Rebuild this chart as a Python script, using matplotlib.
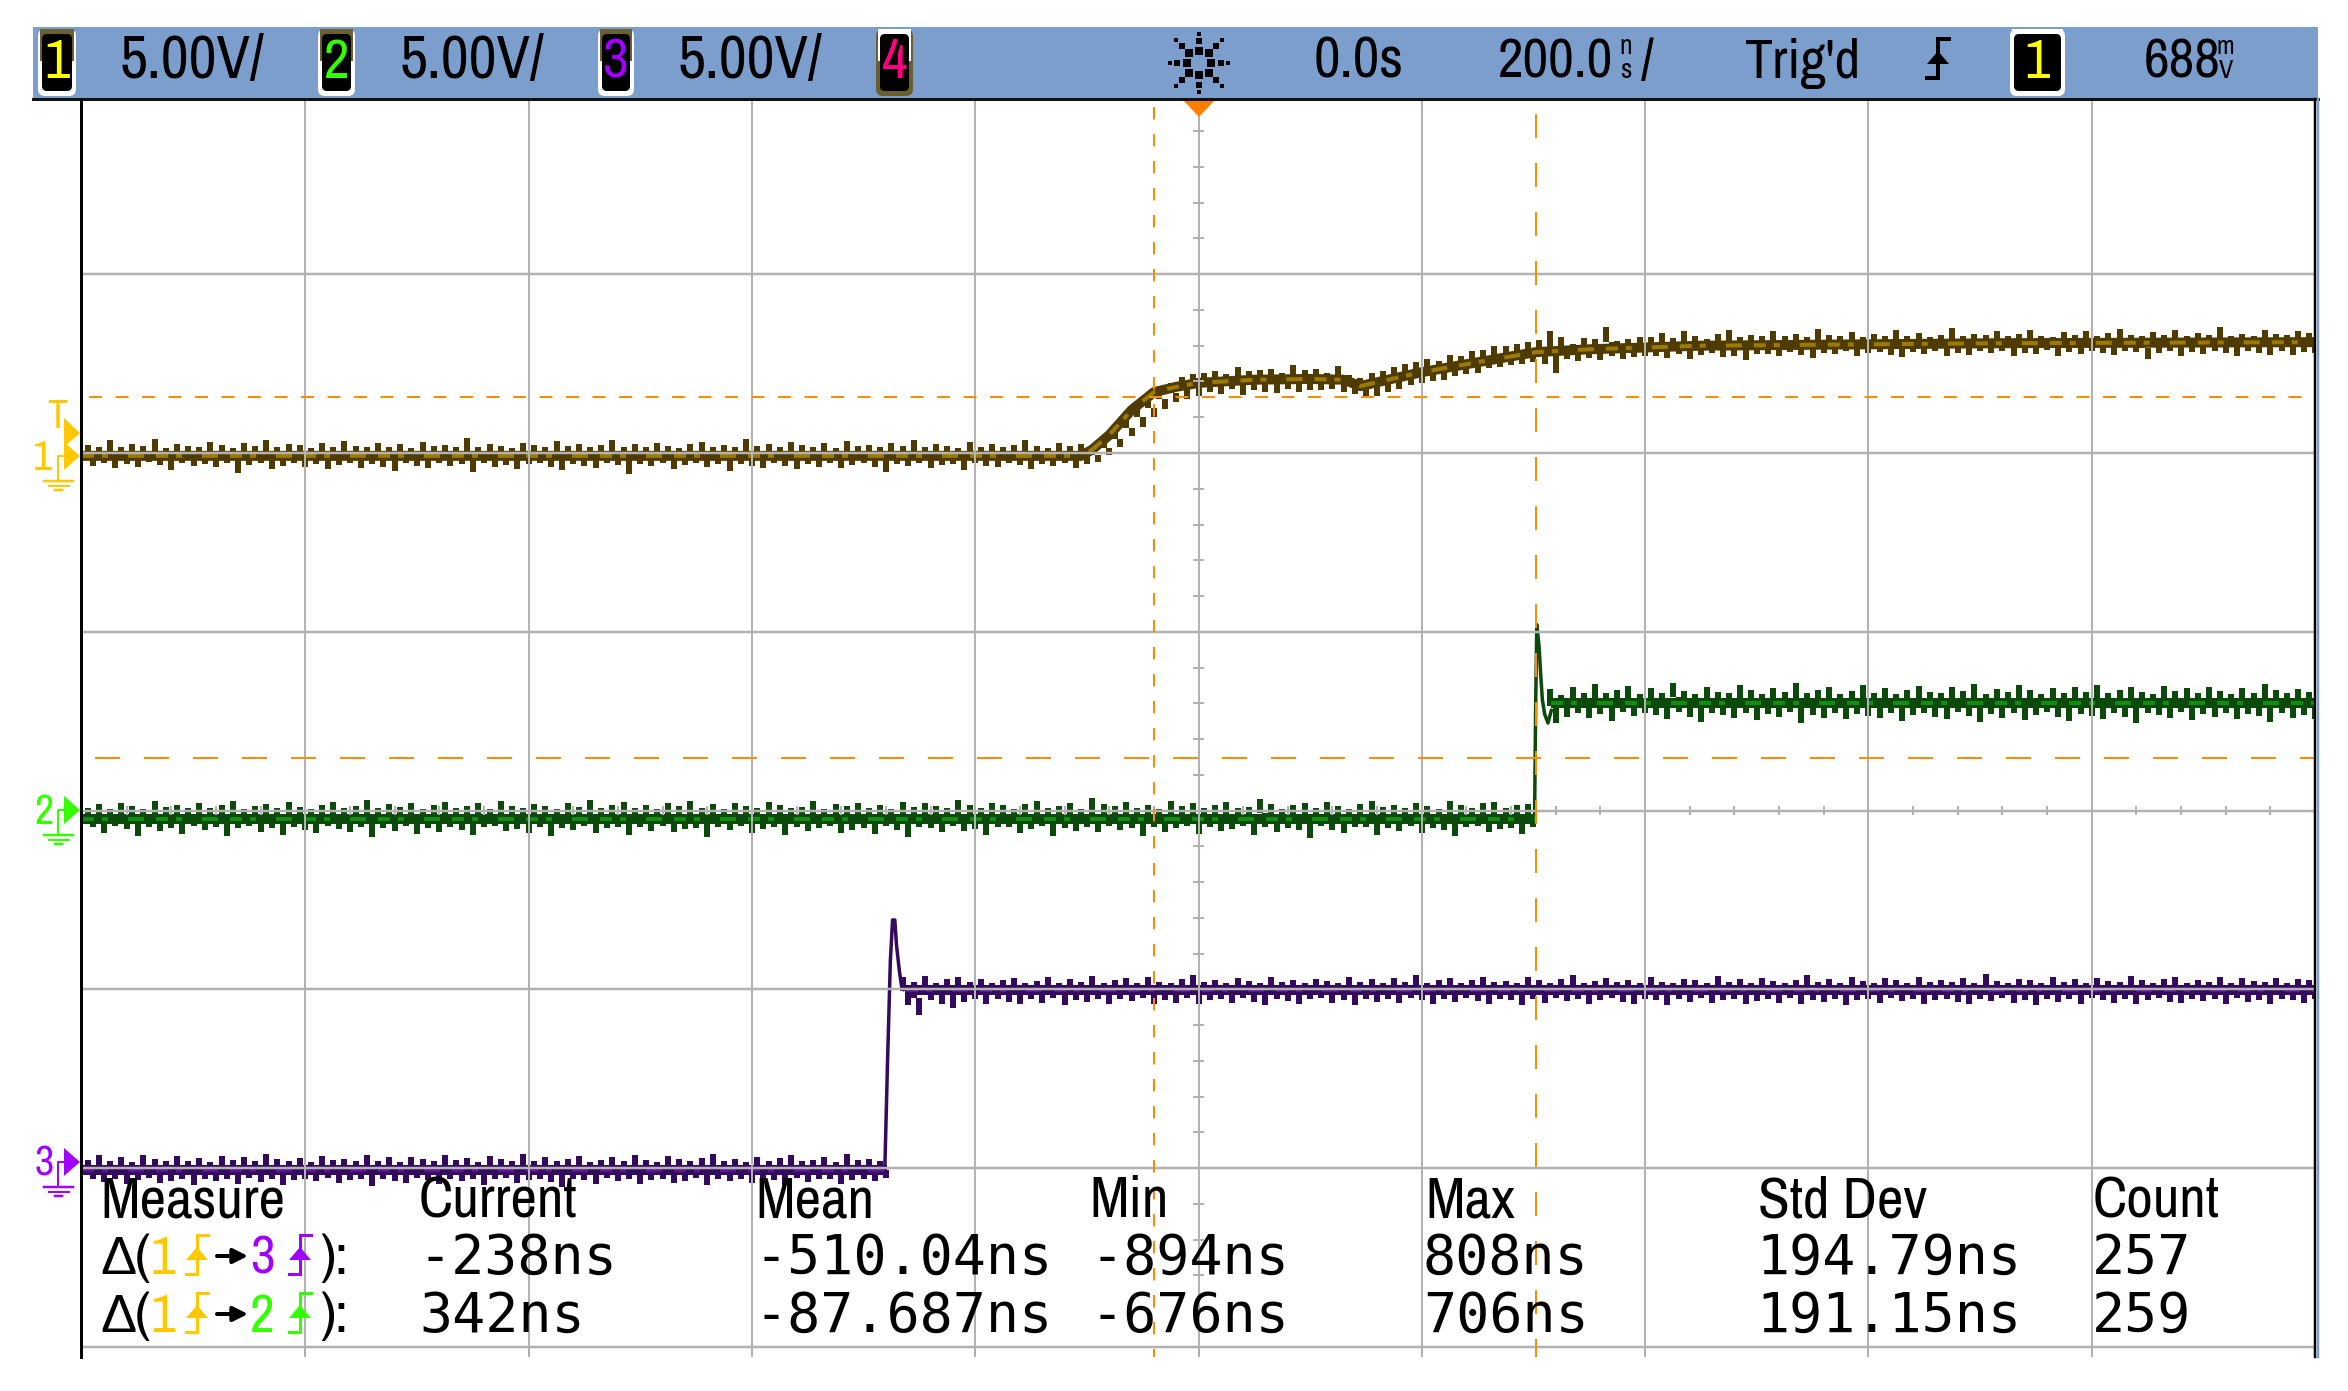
import numpy as np
import matplotlib
matplotlib.use('Agg')
import matplotlib.pyplot as plt
from matplotlib.patches import FancyBboxPatch, Polygon, Rectangle

W, H = 2348, 1391
NARROW = ['Archivo Narrow', 'Liberation Sans', 'DejaVu Sans']
MONO = ['DejaVu Sans Mono']

# scope settings
ns_per_div = 200
volts_per_div = 5
sample_ns = 10

# noise envelope of each trace, one value per 10 ns, in units of 10 mV
ch1_hi = [22, 18, 35, 16, 24, 20, 38, 15, 26, 19,
          17, 30, 22, 15, 28, 19, 36, 16, 24, 21,
          14, 27, 18, 33, 20, 16, 29, 18, 24, 15,
          31, 19, 23, 16, 42, 18, 26, 20, 15, 28,
          22, 17, 34, 19, 25, 16, 21, 37, 18, 24,
          16, 29, 20, 15, 26, 32, 18, 23, 17, 40,
          19, 25, 16, 30, 21, 18, 27, 15, 34, 20,
          23, 16, 28, 19, 37, 17, 24, 20, 15, 31,
          18, 26, 16, 22, 35, 19, 15, 27, 20, 24,
          12, 32, 62, 92, 128, 150, 178, 195, 212, 222,
          225, 230, 222, 240, 228, 232, 236, 225, 245, 232,
          235, 225, 242, 218, 210, 225, 230, 240, 248, 255,
          262, 258, 275, 272, 285, 288, 300, 298, 305, 310,
          315, 340, 325, 305, 322, 318, 352, 312, 320, 325,
          325, 335, 322, 340, 328, 320, 332, 345, 325, 330,
          328, 342, 326, 334, 325, 348, 330, 327, 338, 325,
          332, 326, 345, 328, 336, 325, 330, 350, 327, 334,
          329, 340, 326, 332, 345, 328, 325, 337, 330, 342,
          327, 335, 348, 329, 326, 338, 331, 344, 328, 336,
          330, 352, 327, 334, 326, 345, 332, 329, 341, 335]
ch1_lo = [-35, -28, -42, -30, -38, -26, -34, -48, -29, -37,
          -31, -40, -27, -55, -33, -29, -44, -36, -28, -39,
          -30, -46, -34, -27, -41, -32, -38, -50, -28, -35,
          -43, -29, -36, -31, -52, -27, -40, -33, -45, -30,
          -28, -38, -47, -30, -35, -42, -27, -33, -58, -31,
          -37, -29, -44, -34, -28, -40, -32, -49, -30, -36,
          -41, -27, -35, -46, -31, -38, -29, -43, -33, -28,
          -39, -54, -30, -36, -27, -42, -34, -31, -47, -29,
          -35, -40, -28, -33, -44, -30, -37, -29, -41, -32,
          -24, -6, 18, 48, 72, 100, 122, 142, 152, 160,
          170, 165, 178, 162, 175, 170, 168, 180, 170, 175,
          175, 180, 170, 165, 155, 160, 170, 180, 190, 195,
          200, 205, 215, 220, 225, 238, 240, 245, 250, 255,
          250, 225, 262, 258, 265, 260, 270, 262, 268, 270,
          272, 265, 278, 262, 275, 280, 268, 272, 260, 276,
          278, 270, 282, 274, 265, 280, 276, 284, 272, 279,
          282, 275, 268, 283, 277, 285, 272, 280, 275, 286,
          279, 284, 272, 281, 276, 287, 270, 283, 278, 285,
          280, 274, 286, 282, 262, 279, 285, 272, 283, 277,
          284, 279, 271, 286, 281, 275, 285, 273, 282, 280]
ch2_hi = [8, 18, 5, 22, 12, 4, 26, 10, 16, 6,
          20, 7, 15, 28, 4, 13, 19, 8, 24, 11,
          5, 17, 23, 6, 14, 30, 7, 18, 10, 21,
          4, 16, 25, 8, 13, 20, 5, 27, 12, 7,
          19, 14, 4, 22, 10, 29, 6, 17, 23, 8,
          15, 5, 20, 12, 26, 7, 18, 4, 21, 13,
          8, 24, 16, 6, 11, 28, 5, 19, 14, 22,
          7, 17, 4, 25, 10, 20, 13, 6, 30, 16,
          8, 22, 15, 5, 18, 26, 7, 12, 21, 4,
          36, 19, 14, 24, 8, 17, 5, 28, 13, 20,
          6, 16, 23, 7, 11, 32, 18, 4, 15, 21,
          8, 25, 13, 5, 19, 27, 10, 17, 6, 22,
          12, 4, 28, 16, 7, 20, 24, 8, 15, 18,
          np.nan, 340, 322, 345, 330, 355, 328, 336, 348, 325,
          342, 330, 358, 334, 326, 347, 332, 328, 350, 336,
          325, 344, 331, 356, 329, 338, 346, 327, 335, 352,
          330, 343, 326, 337, 349, 332, 328, 345, 334, 354,
          327, 340, 331, 350, 336, 326, 344, 330, 347, 333,
          352, 328, 338, 345, 331, 327, 349, 335, 342, 329,
          346, 334, 326, 343, 330, 355, 337, 328, 341, 333]
ch2_lo = [-46, -62, -44, -52, -70, -45, -58, -48, -66, -43,
          -55, -47, -72, -50, -44, -60, -49, -68, -45, -54,
          -63, -43, -51, -59, -46, -74, -48, -56, -44, -65,
          -50, -61, -45, -53, -69, -47, -44, -58, -52, -64,
          -46, -71, -49, -55, -43, -62, -50, -47, -67, -45,
          -57, -44, -60, -51, -48, -73, -46, -54, -43, -64,
          -52, -47, -69, -45, -58, -50, -44, -62, -55, -48,
          -66, -43, -53, -75, -46, -49, -60, -44, -57, -51,
          -68, -45, -47, -63, -52, -44, -70, -49, -56, -46,
          -61, -43, -54, -48, -72, -45, -59, -50, -44, -65,
          -47, -57, -52, -43, -68, -46, -60, -49, -55, -76,
          -44, -53, -62, -47, -45, -67, -50, -58, -43, -64,
          -48, -55, -71, -46, -44, -60, -52, -49, -66, -45,
          np.nan, 245, 262, 274, 258, 270, 250, 276, 264, 272,
          268, 255, 275, 262, 248, 272, 266, 258, 274, 252,
          270, 263, 276, 245, 268, 260, 273, 255, 271, 264,
          258, 274, 250, 267, 272, 262, 256, 275, 264, 248,
          271, 260, 273, 254, 268, 276, 262, 250, 270, 265,
          257, 274, 263, 246, 272, 266, 259, 275, 253, 269,
          262, 273, 256, 270, 264, 247, 274, 260, 268, 255]
ch3_hi = [24, 36, 20, 30, 18, 38, 26, 19, 33, 21,
          28, 18, 35, 22, 31, 19, 40, 25, 20, 29,
          18, 34, 24, 27, 20, 37, 21, 30, 18, 32,
          25, 19, 36, 22, 28, 18, 34, 26, 20, 39,
          21, 31, 19, 27, 35, 18, 24, 30, 20, 38,
          22, 18, 33, 26, 19, 29, 41, 21, 25, 18,
          32, 20, 28, 36, 19, 24, 31, 18, 40, 22,
          27, 20,
          np.nan, 534, 522, 538, 518, 530, 535, 520, 528, 517,
          526, 533, 519, 524, 536, 518, 529, 521, 538, 517,
          525, 531, 519, 534, 522, 517, 528, 540, 520, 526,
          518, 532, 523, 517, 536, 521, 527, 519, 530, 524,
          517, 535, 520, 528, 518, 533, 522, 539, 519, 525,
          531, 517, 527, 536, 520, 523, 518, 534, 526, 519,
          529, 541, 517, 524, 532, 520, 527, 518, 535, 522,
          519, 530, 525, 517, 537, 521, 528, 519, 533, 524,
          518, 526, 540, 520, 529, 517, 534, 523, 519, 531,
          525, 518, 536, 522, 527, 520, 533, 517, 542, 524,
          519, 530, 526, 518, 535, 521, 528, 517, 532, 523,
          520, 538, 525, 518, 529, 534, 519, 527, 522, 536,
          517, 531, 524, 520, 533, 518, 528, 526]
ch3_lo = [-30, -38, -29, -45, -33, -28, -41, -35, -30, -48,
          -29, -36, -31, -43, -28, -39, -30, -46, -34, -29,
          -37, -28, -42, -32, -30, -50, -29, -35, -40, -28,
          -33, -44, -30, -36, -29, -47, -31, -28, -41, -34,
          -30, -38, -52, -29, -33, -43, -28, -36, -30, -45,
          -32, -29, -40, -35, -28, -48, -31, -37, -29, -42,
          -30, -34, -46, -28, -39, -31, -29, -44, -33, -30,
          -37, -28,
          np.nan, 455, 428, 470, 458, 448, 465, 472, 460, 474,
          466, 458, 473, 462, 475, 456, 470, 464, 474, 459,
          472, 467, 475, 460, 471, 463, 475, 458, 469, 473,
          461, 475, 466, 456, 474, 468, 460, 472, 475, 463,
          470, 457, 474, 465, 473, 461, 475, 469, 459, 472,
          464, 475, 467, 460, 473, 470, 455, 474, 462, 475,
          468, 472, 459, 471, 475, 464, 460, 474, 469, 457,
          473, 466, 475, 461, 470, 474, 458, 467, 472, 463,
          475, 460, 471, 465, 474, 456, 469, 473, 461, 475,
          467, 472, 459, 470, 474, 464, 458, 473, 468, 475,
          462, 471, 456, 474, 466, 472, 460, 475, 469, 463,
          473, 458, 470, 475, 465, 461, 474, 468, 472, 459,
          475, 466, 471, 460, 474, 469, 463, 472]

# mean level of the traces, time in ns and level in volts
ch1_level_t = [-1000, -105, -95, -80, -60, -40, -20, 0, 50, 100, 130, 145, 170, 200, 243, 302, 350, 449, 717, 1000]
ch1_level_v = [-0.08, -0.08, 0.1, 0.5, 1.2, 1.7, 1.85, 1.96, 2.05, 2.07, 2.05, 1.87, 2.05, 2.26, 2.5, 2.82, 2.9, 3.0, 3.07, 3.1]
ch2_level_t = [-1000, 301, 316, 1000]
ch2_level_v = [-0.24, -0.24, 3.02, 3.02]
ch3_level_t = [-1000, -279, -262, 1000]
ch3_level_v = [-0.06, -0.06, 4.98, 4.98]

# fast edges with overshoot
ch2_edge_t = [301, 302, 303, 305, 306.5, 308, 310, 313, 316]
ch2_edge_v = [-0.2, 3.0, 5.2, 4.6, 3.8, 3.1, 2.7, 2.45, 2.8]
ch3_edge_t = [-281, -278.5, -276, -274, -272, -270.5, -268, -266, -264]
ch3_edge_v = [-0.1, 3.0, 5.8, 6.94, 6.94, 6.24, 5.54, 5.1, 5.0]

ch_names = ['1', '2', '3', '4']
ch_colors = ['#ffff00', '#33ff00', '#a000ff', '#ff0080']
vdiv_labels = ['5.00V/', '5.00V/', '5.00V/']
table_head = ['Measure', 'Current', 'Mean', 'Min', 'Max', 'Std Dev', 'Count']
row1_values = ['-238ns', '-510.04ns', '-894ns', '808ns', '194.79ns', '257']
row2_values = ['342ns', '-87.687ns', '-676ns', '706ns', '191.15ns', '259']


def fs(px):
    return px * 0.72


fig = plt.figure(figsize=(W / 100, H / 100), dpi=100, facecolor='white')

# scope screen, x in ns and y in divisions above the bottom line
left, right, top, bottom = 82, 2315, 99, 1357
ax = fig.add_axes([left / W, 1 - bottom / H, (right - left) / W, (bottom - top) / H])
ax.set_xlim(-5 * ns_per_div, 5 * ns_per_div)
ax.set_ylim(-10 / 178.8, (1347 - top) / 178.8)
ax.axis('off')

grid_c = '#b2b2b2'
orange = '#ff8c00'


def draw_trace(gnd, hi, lo, level_t, level_v, dark, bright, edge=None):
    t = -1000 + (np.arange(len(hi)) + 0.5) * sample_ns
    # upper and lower teeth are staggered by half a sample
    y_hi = gnd + np.array(hi) * 0.01 / volts_per_div
    y_lo = gnd + np.array(lo) * 0.01 / volts_per_div
    y_mid = (y_hi + y_lo) / 2
    ax.vlines(t, y_mid, y_hi, color=dark, lw=fs(6), zorder=2)
    ax.vlines(t + sample_ns / 2, y_lo, y_mid, color=dark, lw=fs(6), zorder=2)
    y = gnd + np.array(level_v) / volts_per_div
    spans = [(0, len(y))] if edge is None else [(0, 2), (2, 4)]
    for i, j in spans:
        ax.plot(level_t[i:j], y[i:j], color=dark, lw=fs(10), solid_capstyle='butt', zorder=3)
        ax.plot(level_t[i:j], y[i:j], color=bright, lw=fs(4), dashes=(3, 2, 1.5, 5, 4, 3), zorder=4)
    if edge is not None:
        ax.plot(edge[0], gnd + np.array(edge[1]) / volts_per_div, color=dark, lw=fs(3.5), zorder=3)


draw_trace(5, ch1_hi, ch1_lo, ch1_level_t, ch1_level_v, '#4f3b00', '#9c7a00')
draw_trace(3, ch2_hi, ch2_lo, ch2_level_t, ch2_level_v, '#0c4a0c', '#138c13', edge=(ch2_edge_t, ch2_edge_v))
draw_trace(1, ch3_hi, ch3_lo, ch3_level_t, ch3_level_v, '#340a5e', '#5e1296', edge=(ch3_edge_t, ch3_edge_v))

# graticule goes over the traces
ax.vlines(np.arange(-4, 6) * ns_per_div, -10 / 178.8, 7, color=grid_c, lw=fs(2), zorder=5)
ax.hlines(np.arange(0, 7), -1000, 1000, color=grid_c, lw=fs(2.5), zorder=5)
ax.vlines(np.arange(-24, 25) * 40, 3 - 0.025, 3 + 0.025, color=grid_c, lw=fs(2), zorder=5)
ax.hlines(np.arange(1, 35) * 0.2, -5, 5, color=grid_c, lw=fs(2), zorder=5)

# cursors
ax.axhline(5 + 56 / 178.8, xmin=7 / 2233, color=orange, lw=fs(2), dashes=(13 / 2, 13.5 / 2), zorder=6)
ax.axhline(3 + 53 / 178.8, xmin=13 / 2233, color=orange, lw=fs(2), dashes=(25 / 2, 24 / 2), zorder=6)
ax.plot([-40, -40], [(1347 - 107) / 178.8, -10 / 178.8], color=orange, lw=fs(2), dashes=(12.5 / 2, 14.5 / 2), zorder=6)
ax.plot([302, 302], [(1347 - 114) / 178.8, -10 / 178.8], color=orange, lw=fs(2), dashes=(24 / 2, 25 / 2), zorder=6)

# everything around the screen is placed in pixels
ov = fig.add_axes([0, 0, 1, 1], zorder=10)
ov.set_xlim(0, W)
ov.set_ylim(H, 0)
ov.axis('off')
ov.patch.set_alpha(0)

ov.add_patch(Rectangle((33, 27), 2285, 72, fc='#7c9ecd', ec='none'))
ov.plot([33, 2318], [99, 99], color='#101010', lw=fs(3))
ov.plot([81, 81], [99, 1357], color='black', lw=fs(3))
ov.plot([2315, 2315], [99, 1357], color='black', lw=fs(2.5))
ov.plot([2317.5, 2317.5], [99, 1357], color='#7c9ecd', lw=fs(2.5))


def edge_mark(cx, base, color, lw=3):
    ov.plot([cx + 11, cx, cx, cx - 11], [base - 39, base - 39, base, base], color=color, lw=fs(lw), solid_joinstyle='miter')
    ov.add_patch(Polygon([(cx - 11, base - 14), (cx + 11, base - 14), (cx, base - 27)], fc=color, ec='none'))


def badge(x0, x1, digit, color, top_c, bot_c):
    ov.add_patch(FancyBboxPatch((x0 + 5, 33), x1 - x0 - 10, 59, boxstyle='round,pad=4,rounding_size=7', fc=bot_c, ec='none'))
    ov.add_patch(Rectangle((x0 + 3, 29), x1 - x0 - 6, 32, fc=top_c, ec='none'))
    ov.add_patch(FancyBboxPatch((x0 + 8, 37), x1 - x0 - 16, 51, boxstyle='round,pad=3,rounding_size=5', fc='black', ec='none'))
    ov.text((x0 + x1) / 2, 78, digit, color=color, family=NARROW, fontsize=fs(56), ha='center', va='baseline')


olive = '#6b5e30'
badge(37, 77, ch_names[0], ch_colors[0], olive, 'white')
badge(317, 356, ch_names[1], ch_colors[1], olive, 'white')
badge(597, 635, ch_names[2], ch_colors[2], olive, 'white')
badge(875, 914, ch_names[3], ch_colors[3], 'white', olive)
badge(2009, 2066, ch_names[0], ch_colors[0], 'white', 'white')

for x, s in zip([120, 399, 677], vdiv_labels):
    ov.text(x, 78, s, family=NARROW, fontsize=fs(61), va='baseline')

# acquiring star
for ang, rad in [(0, 12), (0, 22), (0, 29), (45, 14), (45, 24), (45, 32),
                 (90, 12), (90, 22), (90, 29), (135, 14), (135, 24), (135, 32),
                 (180, 12), (180, 22), (180, 29), (225, 14), (225, 24), (225, 32),
                 (270, 12), (270, 22), (270, 29), (315, 14), (315, 24), (315, 32)]:
    size = 33 if rad < 15 else (18 if rad < 26 else 5)
    ov.scatter(1199 + rad * np.cos(np.radians(ang)), 63 + rad * np.sin(np.radians(ang)), s=size, c='black', marker='s', lw=0)

ov.text(1314, 78, '0.0s', family=NARROW, fontsize=fs(58), va='baseline')
ov.text(1498, 78, '200.0', family=NARROW, fontsize=fs(56), va='baseline')
ov.text(1619, 54, 'n', family=NARROW, fontsize=fs(28), weight='bold', va='baseline')
ov.text(1620, 78, 's', family=NARROW, fontsize=fs(28), weight='bold', va='baseline')
ov.text(1641, 78, '/', family=NARROW, fontsize=fs(56), va='baseline')
ov.text(1745, 78, "Trig'd", family=NARROW, fontsize=fs(56), va='baseline')
edge_mark(1938, 78, 'black', lw=4)
ov.text(2144, 78, '688', family=NARROW, fontsize=fs(56), va='baseline')
ov.text(2216, 54, 'm', family=NARROW, fontsize=fs(26), weight='bold', va='baseline')
ov.text(2219, 78, 'V', family=NARROW, fontsize=fs(26), weight='bold', va='baseline')

# trigger pointer
ov.add_patch(Polygon([(1183, 100), (1215, 100), (1199, 117)], fc='#ff8000', ec='none'))

# channel markers on the left
yellow = '#ffc800'
ov.text(57, 428, 'T', color=yellow, family=NARROW, fontsize=fs(40), ha='center', va='baseline')
ov.add_patch(Polygon([(64, 418), (80, 433), (64, 447)], fc=yellow, ec='none'))


def ground(y, color, label, lx):
    ov.add_patch(Polygon([(64, y - 14), (80, y), (64, y + 14)], fc=color, ec='none'))
    ov.plot([64, 58, 58], [y, y, y + 25], color=color, lw=fs(2))
    ov.plot([44, 73], [y + 25, y + 25], color=color, lw=fs(2.5))
    ov.plot([49, 69], [y + 30, y + 30], color=color, lw=fs(2))
    ov.plot([55, 62], [y + 34, y + 34], color=color, lw=fs(2.5))
    ov.text(lx, y + 14, label, color=color, family=NARROW, fontsize=fs(42), ha='right', va='baseline')


ground(456, yellow, '1', 52)
ground(810, '#33ff00', '2', 54)
ground(1162, ch_colors[2], '3', 54)

# measurement table
for x, s in zip([100, 419, 755, 1089, 1425, 1758, 2093], table_head):
    ov.text(x, 1217, s, family=NARROW, fontsize=fs(58), va='baseline')


def delta_row(base, other, other_c):
    ov.text(100, base, '\u0394', family=NARROW, fontsize=fs(54), va='baseline')
    ov.text(135, base, '(', family=NARROW, fontsize=fs(56), va='baseline')
    ov.text(150, base, '1', color='#ffc800', family=NARROW, fontsize=fs(54), va='baseline')
    edge_mark(197, base, '#ffc800')
    ov.annotate('', xy=(248, base - 18), xytext=(217, base - 18),
                arrowprops=dict(arrowstyle='-|>', color='black', lw=fs(4), mutation_scale=22, shrinkA=0, shrinkB=0))
    ov.text(250, base, other, color=other_c, family=NARROW, fontsize=fs(54), va='baseline')
    edge_mark(300, base, other_c)
    ov.text(320, base, ')', family=NARROW, fontsize=fs(56), va='baseline')
    ov.text(334, base, ':', family=NARROW, fontsize=fs(56), va='baseline')


delta_row(1274, '3', ch_colors[2])
delta_row(1332, '2', ch_colors[1])

for vals, base, xs in [(row1_values, 1274, [419, 755, 1090, 1423, 1756, 2092]),
                       (row2_values, 1332, [419, 755, 1090, 1423, 1756, 2092])]:
    for x, s in zip(xs, vals):
        ov.text(x, base, s, family=MONO, fontsize=fs(55), va='baseline')

fig.savefig('out.png', dpi=100, facecolor='white')
